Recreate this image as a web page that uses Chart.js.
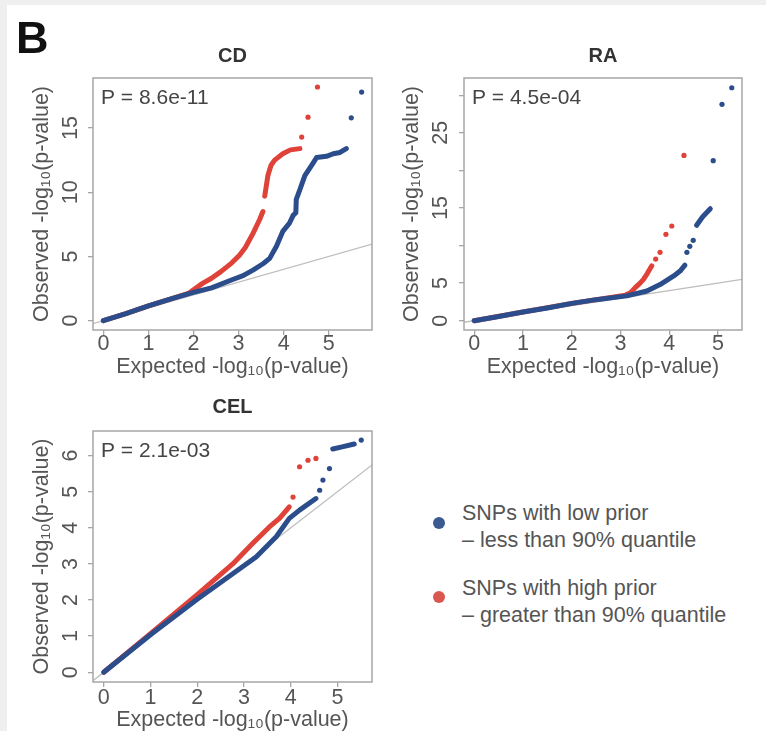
<!DOCTYPE html>
<html>
<head>
<meta charset="utf-8">
<script src="https://cdn.jsdelivr.net/npm/chart.js@4.4.1/dist/chart.umd.min.js"></script>
<style>
  html, body { margin: 0; padding: 0; }
  body { width: 766px; height: 731px; background: #efefef; position: relative; overflow: hidden;
         font-family: 'Liberation Sans', Arial, sans-serif; }
  #sheet { position: absolute; left: 7px; top: 5px; width: 759px; height: 726px; background: #fff; }
  canvas { position: absolute; }
  .tag { position: absolute; left: 16px; top: 15px; font-weight: bold; font-size: 45px; line-height: 45px; color: #111; }
  .key { position: absolute; left: 462px; font-size: 21.5px; line-height: 27px; color: #555; white-space: nowrap; }
  .dot { position: absolute; left: 433px; width: 12px; height: 12px; border-radius: 50%; }
</style>
</head>
<body>
<div id="sheet"></div>
<canvas id="cd" width="385" height="345" style="left:0;top:40px"></canvas>
<canvas id="ra" width="386" height="345" style="left:380px;top:40px"></canvas>
<canvas id="cel" width="385" height="346" style="left:0;top:385px"></canvas>
<div class="tag">B</div>

<div class="dot" style="top:517px;background:#3a5a90"></div>
<div class="key" style="top:500px">SNPs with low prior<br>– less than 90% quantile</div>
<div class="dot" style="top:591px;background:#d9574e"></div>
<div class="key" style="top:575px">SNPs with high prior<br>– greater than 90% quantile</div>

<script>
// ---- CD: expected vs observed -log10(p) ----
const cdLow = [[0,0],[0.5,0.55],[1,1.15],[1.5,1.7],[2,2.2],[2.4,2.55],[2.87,3.2],[3.1,3.5],[3.32,3.94],
  [3.55,4.45],[3.69,4.85],[3.84,5.8],[3.98,6.95],[4.13,7.6],[4.21,8.2],[4.27,8.4],[4.28,9.45],[4.36,10.2],
  [4.47,11.3],[4.62,12.1],[4.73,12.7],[4.95,12.8],[5.1,13.0],[5.25,13.1],[5.39,13.4]];
const cdLowTail = [[5.5,15.8],[5.73,17.8]];
const cdHigh = [[0,0],[0.5,0.55],[1,1.15],[1.5,1.7],[1.9,2.15],[2.2,2.9],[2.4,3.3],[2.6,3.8],[2.85,4.5],
  [3.02,5.1],[3.15,5.7],[3.32,6.8],[3.47,7.9],[3.54,8.5]];
const cdHighUpper = [[3.58,9.7],[3.65,11.3],[3.72,12.1],[3.8,12.5],[3.98,13.0],[4.15,13.3],[4.36,13.4]];
const cdHighTail = [[4.4,14.3],[4.54,15.85],[4.75,18.2]];
const cdXTicks = [0, 1, 2, 3, 4, 5];
const cdYTicks = [0, 5, 10, 15];
const cdYLabels = ['0', '5', '10', '15'];

// ---- RA ----
const raLow = [[0,0],[0.5,0.55],[1,1.15],[1.5,1.7],[2,2.3],[2.5,2.8],[3.13,3.3],[3.54,3.95],[3.81,4.8],
  [4.09,5.95],[4.22,6.6],[4.32,7.4]];
const raLowUpper = [[4.56,12.7],[4.68,13.8],[4.84,14.9]];
const raLowTail = [[4.36,9.1],[4.42,9.9],[4.49,10.7],[4.9,21.3],[5.08,28.8],[5.28,31.0]];
const raHigh = [[0,0],[1,1.15],[2,2.3],[3.1,3.4],[3.2,3.7],[3.3,4.4],[3.4,5.0],[3.47,5.5],[3.55,6.3],[3.64,7.3]];
const raHighTail = [[3.72,8.2],[3.81,9.1],[3.93,11.5],[4.05,12.6],[4.3,22.0]];
const raXTicks = [0, 1, 2, 3, 4, 5];
const raYTicks = [0, 5, 10, 15, 20, 25, 30];
const raYLabels = ['0', '5', '', '15', '', '25', ''];

// ---- CEL ----
const celLow = [[0,0],[1,1.04],[2,2.02],[2.76,2.73],[3.26,3.19],[3.69,3.75],[3.97,4.26],[4.19,4.49],[4.54,4.81]];
const celLowUpper = [[4.9,6.18],[5.1,6.24],[5.36,6.32]];
const celLowTail = [[4.62,5.04],[4.69,5.32],[4.83,5.64],[5.51,6.43]];
const celHigh = [[0,0],[1,1.07],[2,2.15],[2.76,3.0],[3.19,3.57],[3.55,4.03],[3.76,4.26],[3.97,4.58]];
const celHighTail = [[4.05,4.85],[4.19,5.69],[4.37,5.87],[4.54,5.92]];
const celXTicks = [0, 1, 2, 3, 4, 5];
const celYTicks = [0, 1, 2, 3, 4, 5, 6];
const celYLabels = ['0', '1', '2', '3', '4', '5', '6'];

// null line y = x
const identity = [[-1,-1],[40,40]];

const FONT = "'Liberation Sans', Arial, sans-serif";
const BLUE = '#2c4d8b';
const RED = '#df4239';
const FRAME = '#a6a6a6';
const INK = '#555';
const TXT = 21.5;

const pts = arr => arr.map(([x, y]) => ({ x, y }));
const curve = (arr, color) => ({ data: pts(arr), showLine: true, borderColor: color, borderWidth: 5,
  pointRadius: 0, borderCapStyle: 'round', borderJoinStyle: 'round', tension: 0 });
const dots = (arr, color) => ({ data: pts(arr), showLine: false, pointRadius: 2.6,
  pointBackgroundColor: color, pointBorderWidth: 0 });
const refLine = () => ({ data: pts(identity), showLine: true, borderColor: '#bdbdbd', borderWidth: 1.3,
  pointRadius: 0, clip: 0 });

// box around the plot region, panel heading centred over it, and the P annotation inside
const framePlugin = {
  id: 'frame',
  afterDatasetsDraw(chart, args, opts) {
    const { ctx, chartArea: a } = chart;
    ctx.save();
    ctx.strokeStyle = FRAME;
    ctx.lineWidth = 1.5;
    ctx.strokeRect(a.left, a.top, a.right - a.left, a.bottom - a.top);
    ctx.fillStyle = '#444';
    ctx.font = '21px ' + FONT;
    ctx.textBaseline = 'middle';
    ctx.textAlign = 'left';
    ctx.fillText(opts.text, a.left + 8, a.top + 20);
    ctx.fillStyle = '#333';
    ctx.font = 'bold 20px ' + FONT;
    ctx.textAlign = 'center';
    ctx.fillText(opts.heading, (a.left + a.right) / 2, a.top - opts.headingGap);
    ctx.restore();
  }
};

function panel(p) {
  const yLabels = p.yLabels;
  return new Chart(document.getElementById(p.id), {
    type: 'scatter',
    data: { datasets: p.datasets },
    plugins: [framePlugin],
    options: {
      responsive: false,
      animation: false,
      devicePixelRatio: 1,
      layout: { padding: { left: 0, right: p.width - (p.box.r - p.left), top: p.box.t - p.top, bottom: 0 } },
      plugins: {
        legend: { display: false },
        tooltip: { enabled: false },
        frame: { text: p.pLabel, heading: p.title, headingGap: p.headingGap }
      },
      scales: {
        x: {
          type: 'linear', min: p.xRange[0], max: p.xRange[1],
          afterBuildTicks: s => { s.ticks = p.xTicks.map(v => ({ value: v })); },
          afterFit: s => { s.height = (p.top + p.height) - p.box.b; s.paddingLeft = 0; s.paddingRight = 0; },
          grid: { drawOnChartArea: false, drawTicks: true, tickLength: 5, color: FRAME, lineWidth: 1.3 },
          border: { display: false },
          ticks: { color: INK, font: { size: TXT, family: FONT }, padding: p.xTickPad, maxRotation: 0,
                   autoSkip: false, callback: (v, i) => String(p.xTicks[i]) },
          title: { display: true, text: 'Expected -log₁₀(p-value)', color: INK,
                   font: { size: TXT, family: FONT }, padding: { top: 0, bottom: p.xTitlePad } }
        },
        y: {
          type: 'linear', min: p.yRange[0], max: p.yRange[1],
          afterBuildTicks: s => { s.ticks = p.yTicks.map(v => ({ value: v })); },
          afterFit: s => { s.width = p.box.l - p.left; s.paddingTop = 0; s.paddingBottom = 0; },
          grid: { drawOnChartArea: false, drawTicks: true, tickLength: 5, color: FRAME, lineWidth: 1.3 },
          border: { display: false },
          ticks: { color: INK, font: { size: TXT, family: FONT }, padding: p.yTickPad, minRotation: 90,
                   maxRotation: 90, crossAlign: 'center', autoSkip: false, callback: (v, i) => yLabels[i] },
          title: { display: true, text: 'Observed -log₁₀(p-value)', color: INK,
                   font: { size: TXT, family: FONT }, padding: { top: p.yTitlePad, bottom: 0 } }
        }
      }
    }
  });
}

panel({
  id: 'cd', title: 'CD', pLabel: 'P = 8.6e-11',
  left: 0, top: 40, width: 385, height: 345, box: { l: 93, t: 78, r: 372, b: 330 }, headingGap: 22,
  xTitlePad: 5, yTitlePad: 29, xTickPad: -4, yTickPad: 5,
  xRange: [-0.23, 5.96], yRange: [-0.73, 18.9],
  xTicks: cdXTicks, yTicks: cdYTicks, yLabels: cdYLabels,
  datasets: [curve(cdLow, BLUE), dots(cdLowTail, BLUE), curve(cdHigh, RED), curve(cdHighUpper, RED),
             dots(cdHighTail, RED), refLine()]
});

panel({
  id: 'ra', title: 'RA', pLabel: 'P = 4.5e-04',
  left: 380, top: 40, width: 386, height: 345, box: { l: 464, t: 78, r: 742, b: 330 }, headingGap: 22,
  xTitlePad: 5, yTitlePad: 19, xTickPad: -4, yTickPad: 6,
  xRange: [-0.21, 5.49], yRange: [-1.24, 32.3],
  xTicks: raXTicks, yTicks: raYTicks, yLabels: raYLabels,
  datasets: [curve(raLow, BLUE), curve(raLowUpper, BLUE), dots(raLowTail, BLUE), curve(raHigh, RED),
             dots(raHighTail, RED), refLine()]
});

panel({
  id: 'cel', title: 'CEL', pLabel: 'P = 2.1e-03',
  left: 0, top: 385, width: 385, height: 346, box: { l: 93, t: 431, r: 372, b: 682 }, headingGap: 24,
  xTitlePad: -2, yTitlePad: 29, xTickPad: -2, yTickPad: 10.5,
  xRange: [-0.23, 5.74], yRange: [-0.27, 6.68],
  xTicks: celXTicks, yTicks: celYTicks, yLabels: celYLabels,
  datasets: [curve(celLow, BLUE), curve(celLowUpper, BLUE), dots(celLowTail, BLUE), curve(celHigh, RED),
             dots(celHighTail, RED), refLine()]
});
</script>
</body>
</html>
